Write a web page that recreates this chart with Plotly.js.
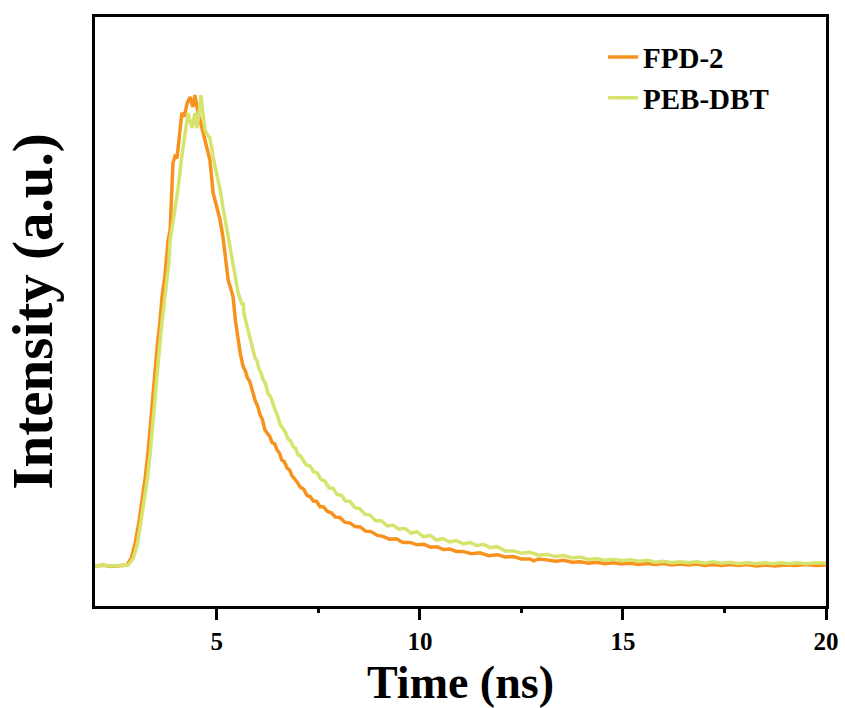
<!DOCTYPE html>
<html>
<head>
<meta charset="utf-8">
<script src="https://cdn.plot.ly/plotly-3.0.1.min.js"></script>
<style>html,body{margin:0;padding:0;background:#fff;}#chart{width:845px;height:708px;}</style>
</head>
<body>
<div id="chart"></div>
<script>
// FPD-2 time (ns) and normalized intensity
const fpdTime = [2.00,2.20,2.40,2.60,2.79,2.90,2.99,3.08,3.16,3.24,3.31,3.40,3.47,3.53,3.60,3.65,3.72,3.77,3.80,3.85,3.92,3.97,4.02,4.08,4.14,4.20,4.27,4.34,4.41,4.46,4.54,4.62,4.71,4.77,4.83,
  4.91,5.00,5.08,5.15,5.22,5.28,5.34,5.40,5.46,5.52,5.58,5.65,5.70,5.75,5.81,5.87,5.94,6.01,6.06,6.12,6.18,6.24,6.30,6.36,6.42,6.48,6.54,6.60,6.66,6.73,6.79,6.85,6.91,6.98,7.05,7.14,7.22,7.30,7.38,7.46,7.54,7.62,7.72,7.82,7.92,8.03,8.15,8.28,8.40,8.53,8.66,8.80,8.95,9.09,9.25,9.42,9.58,9.76,9.93,10.10,10.26,10.42,10.58,10.74,10.90,11.06,11.27,11.48,11.69,11.90,12.10,12.30,12.50,12.71,12.80,12.92,13.13,13.33,13.54,13.75,13.95,14.15,14.36,14.56,14.76,14.97,15.18,15.39,15.60,15.80,16.00,16.20,16.41,16.62,16.82,17.02,17.22,17.43,17.64,17.85,18.06,18.28,18.50,18.75,19.00,19.25,19.50,19.75,20.00];
const fpdInt = [0.000,0.002,-0.001,0.001,0.002,0.018,0.049,0.092,0.140,0.190,0.246,0.344,0.405,0.465,0.520,0.571,0.615,0.656,0.692,0.713,0.856,0.870,0.866,0.915,0.962,0.955,0.983,0.996,0.975,1.000,0.962,0.935,0.904,0.880,0.862,
  0.792,0.760,0.735,0.699,0.650,0.607,0.590,0.571,0.520,0.486,0.450,0.423,0.415,0.400,0.392,0.374,0.352,0.338,0.322,0.312,0.290,0.282,0.276,0.262,0.260,0.247,0.240,0.225,0.222,0.208,0.204,0.192,0.186,0.178,0.168,0.163,0.150,0.147,0.138,0.137,0.126,0.126,0.116,0.113,0.104,0.103,0.093,0.091,0.084,0.083,0.074,0.073,0.065,0.063,0.057,0.058,0.050,0.050,0.045,0.046,0.040,0.041,0.035,0.036,0.031,0.031,0.026,0.028,0.022,0.024,0.019,0.020,0.015,0.015,0.011,0.015,0.013,0.010,0.012,0.008,0.009,0.006,0.008,0.005,0.007,0.004,0.006,0.003,0.005,0.003,0.005,0.002,0.004,0.002,0.004,0.001,0.003,0.001,0.003,0.001,0.003,0.000,0.002,0.000,0.002,0.001,0.003,0.001,0.002];

// PEB-DBT time (ns) and normalized intensity
const pebTime = [2.00,2.20,2.40,2.60,2.82,2.94,3.04,3.12,3.21,3.29,3.36,3.45,3.52,3.58,3.64,3.70,3.76,3.82,3.85,3.94,4.04,4.13,4.22,4.29,4.34,4.39,4.46,4.51,4.56,4.61,4.66,4.71,4.77,4.83,
  4.91,4.97,5.03,5.09,5.15,5.22,5.28,5.34,5.40,5.46,5.52,5.58,5.62,5.65,5.67,5.72,5.77,5.81,5.85,5.90,5.94,5.99,6.04,6.09,6.14,6.20,6.26,6.32,6.38,6.44,6.50,6.56,6.63,6.69,6.75,6.81,6.88,6.94,7.00,7.06,7.12,7.21,7.30,7.38,7.47,7.56,7.66,7.76,7.86,7.96,8.07,8.17,8.28,8.40,8.52,8.64,8.77,8.91,9.05,9.20,9.34,9.48,9.63,9.78,9.93,10.09,10.25,10.41,10.57,10.73,10.90,11.07,11.24,11.40,11.57,11.73,11.90,12.10,12.30,12.50,12.71,12.92,13.13,13.33,13.54,13.75,13.95,14.15,14.36,14.56,14.76,14.97,15.18,15.39,15.60,15.80,16.00,16.20,16.41,16.62,16.82,17.02,17.22,17.43,17.64,17.85,18.06,18.28,18.50,18.70,18.87,19.10,19.30,19.50,19.75,20.00];
const pebInt = [0.000,0.001,0.000,0.001,0.002,0.016,0.045,0.088,0.135,0.185,0.240,0.335,0.395,0.455,0.510,0.560,0.605,0.645,0.692,0.745,0.798,0.865,0.926,0.962,0.945,0.930,0.962,0.930,0.960,1.000,0.960,0.926,0.915,0.909,
  0.868,0.845,0.820,0.795,0.762,0.730,0.699,0.672,0.643,0.612,0.582,0.565,0.555,0.560,0.535,0.518,0.501,0.488,0.472,0.460,0.442,0.436,0.418,0.410,0.395,0.388,0.366,0.360,0.342,0.330,0.318,0.300,0.292,0.284,0.270,0.266,0.253,0.250,0.236,0.234,0.225,0.214,0.212,0.200,0.198,0.184,0.180,0.166,0.165,0.152,0.150,0.138,0.137,0.124,0.122,0.110,0.108,0.096,0.096,0.085,0.087,0.078,0.080,0.070,0.073,0.062,0.065,0.055,0.058,0.051,0.054,0.047,0.050,0.043,0.046,0.039,0.041,0.032,0.032,0.027,0.029,0.023,0.025,0.020,0.022,0.017,0.019,0.014,0.016,0.012,0.014,0.011,0.013,0.010,0.012,0.008,0.010,0.007,0.009,0.007,0.009,0.006,0.009,0.006,0.008,0.005,0.007,0.005,0.007,0.005,0.007,0.005,0.007,0.005,0.007,0.006];

const seriesNames = ['FPD-2', 'PEB-DBT'];
const xTickVals = [5, 10, 15, 20];
const xTickText = ['5', '10', '15', '20'];
const xMinorTickVals = [7.5, 12.5, 17.5];

const serif = '"Times New Roman", "Liberation Serif", serif';

const traces = [
  {x: fpdTime, y: fpdInt, name: seriesNames[0], type: 'scatter', mode: 'lines',
   xaxis: 'x', yaxis: 'y',
   line: {color: '#F8921E', width: 3.5}},
  {x: pebTime, y: pebInt, name: seriesNames[1], type: 'scatter', mode: 'lines',
   xaxis: 'x2', yaxis: 'y',
   line: {color: '#D6E46E', width: 3.5}}
];

const layout = {
  width: 845, height: 708,
  margin: {l: 95, r: 19, t: 17, b: 102},
  paper_bgcolor: '#fff', plot_bgcolor: '#fff',
  showlegend: true,
  legend: {x: 0.695, y: 0.975, xanchor: 'left', yanchor: 'top', bgcolor: 'rgba(0,0,0,0)',
           font: {family: serif, size: 29, color: '#000', weight: 'bold'}, tracegroupgap: 0},
  xaxis: {
    range: [2, 20], showgrid: false, zeroline: false,
    showline: true, linecolor: '#000', linewidth: 3, mirror: true,
    ticks: 'outside', ticklen: 11, tickwidth: 3, tickcolor: '#000',
    tickmode: 'array', tickvals: xTickVals, ticktext: xTickText,
    tickfont: {family: serif, size: 25, color: '#000', weight: 'bold'},
    title: {text: 'Time (ns)', font: {family: serif, size: 46, color: '#000', weight: 'bold'}, standoff: 14}
  },
  xaxis2: {
    range: [2, 20], overlaying: 'x', anchor: 'y', side: 'bottom',
    showgrid: false, zeroline: false, showline: false,
    ticks: 'outside', ticklen: 6, tickwidth: 3, tickcolor: '#000',
    tickmode: 'array', tickvals: xMinorTickVals, showticklabels: false
  },
  yaxis: {
    range: [-0.085, 1.166], showgrid: false, zeroline: false,
    showline: true, linecolor: '#000', linewidth: 3, mirror: true,
    ticks: '', showticklabels: false,
    title: {text: 'Intensity (a.u.)', font: {family: serif, size: 57, color: '#000', weight: 'bold'}, standoff: 22}
  }
};

Plotly.newPlot('chart', traces, layout, {displayModeBar: false, staticPlot: true});
</script>
</body>
</html>
